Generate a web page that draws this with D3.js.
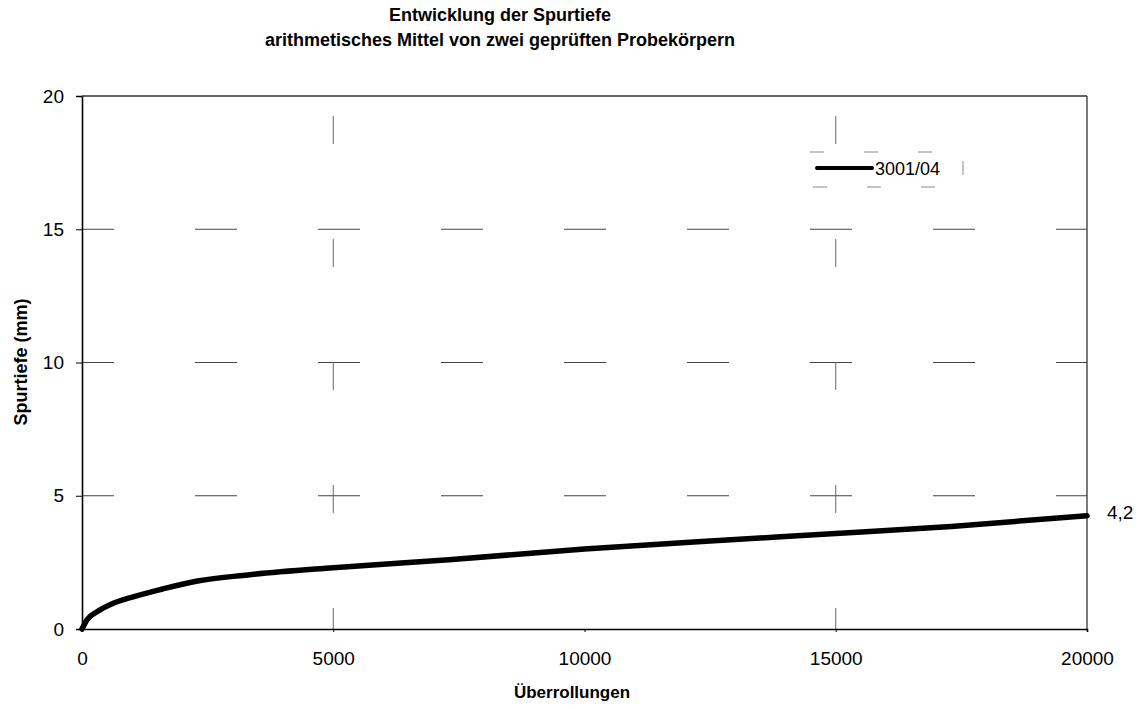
<!DOCTYPE html>
<html><head><meta charset="utf-8">
<script src="https://cdn.jsdelivr.net/npm/d3@7"></script>
<style>body{margin:0;background:#fff;} svg{display:block;}</style>
</head><body>
<svg id="c" width="1144" height="709"></svg>
<script>
const passes = [0, 100, 300, 600, 1000, 1600, 2300, 3300, 5000, 7300, 10000, 12500, 15000, 17300, 20000];
const depth  = [0, 0.35, 0.65, 0.95, 1.2, 1.5, 1.8, 2.03, 2.3, 2.6, 3.0, 3.3, 3.58, 3.85, 4.25];
const xTicks = [0, 5000, 10000, 15000, 20000];
const yTicks = [0, 5, 10, 15, 20];
const hGrid = [5, 10, 15];
const vGrid = [5000, 15000];
const seriesName = "3001/04";
const endLabel = "4,2";
const titleLines = ["Entwicklung der Spurtiefe", "arithmetisches Mittel von zwei geprüften Probekörpern"];
const xTitle = "Überrollungen";
const yTitle = "Spurtiefe (mm)";

const svg = d3.select("#c");
const L = 82, R = 1087, T = 96, B = 629;
const x = d3.scaleLinear().domain([0, 20000]).range([L, R]);
const y = d3.scaleLinear().domain([0, 20]).range([B, T]);
const font = "'Liberation Sans', Arial, sans-serif";

// grid
svg.append("g").selectAll("line").data(hGrid).join("line")
  .attr("x1", L).attr("x2", R).attr("y1", d => y(d)).attr("y2", d => y(d))
  .attr("stroke", "#444").attr("stroke-width", 1).attr("stroke-dasharray", "42,81").attr("stroke-dashoffset", 10);
svg.append("g").selectAll("line").data(vGrid).join("line")
  .attr("x1", d => x(d)).attr("x2", d => x(d)).attr("y1", T).attr("y2", B)
  .attr("stroke", "#666").attr("stroke-width", 1).attr("stroke-dasharray", "28,95").attr("stroke-dashoffset", -20);

// axes
const xAxis = d3.axisBottom(x).tickValues(xTicks).tickSize(3).tickPadding(20).tickFormat(d3.format("d"));
const yAxis = d3.axisLeft(y).tickValues(yTicks).tickSize(6).tickPadding(12).tickFormat(d3.format("d"));
const gx = svg.append("g").attr("transform", `translate(0,${B})`).call(xAxis);
const gy = svg.append("g").attr("transform", `translate(${L},0)`).call(yAxis);
[gx, gy].forEach(g => {
  g.select(".domain").attr("stroke", "#000").attr("stroke-width", 1.6);
  g.selectAll(".tick line").attr("stroke", "#000");
  g.selectAll("text").attr("font-family", font).attr("font-size", 19).attr("fill", "#000");
});
// top and right border
svg.append("line").attr("x1", L).attr("x2", R).attr("y1", T).attr("y2", T).attr("stroke", "#333").attr("stroke-width", 1.3);
svg.append("line").attr("x1", R).attr("x2", R).attr("y1", T).attr("y2", B).attr("stroke", "#333").attr("stroke-width", 1.3);

// curve
const line = d3.line().x((d, i) => x(passes[i])).y(d => y(d)).curve(d3.curveMonotoneX);
svg.append("path").datum(depth).attr("d", line)
  .attr("fill", "none").attr("stroke", "#000").attr("stroke-width", 5.5).attr("stroke-linecap", "round");

// end label
svg.append("text").attr("x", R + 20).attr("y", y(depth[depth.length - 1]) + 3)
  .attr("font-family", font).attr("font-size", 19).text(endLabel);

// legend
const lg = svg.append("g");
lg.append("rect").attr("x", 810).attr("y", 152).attr("width", 153).attr("height", 35)
  .attr("fill", "none").attr("stroke", "#888").attr("stroke-width", 1).attr("stroke-dasharray", "14,40");
lg.append("line").attr("x1", 817).attr("x2", 872).attr("y1", 168).attr("y2", 168)
  .attr("stroke", "#000").attr("stroke-width", 4).attr("stroke-linecap", "round");
lg.append("text").attr("x", 875).attr("y", 175).attr("font-family", font).attr("font-size", 18).text(seriesName);

// titles
svg.append("g").selectAll("text").data(titleLines).join("text")
  .attr("x", 500).attr("y", (d, i) => 21 + i * 25)
  .attr("text-anchor", "middle").attr("font-family", font).attr("font-weight", "bold")
  .attr("font-size", 18).text(d => d);
svg.append("text").attr("x", 572).attr("y", 698).attr("text-anchor", "middle")
  .attr("font-family", font).attr("font-weight", "bold").attr("font-size", 17).text(xTitle);
svg.append("text").attr("transform", `translate(27,362) rotate(-90)`).attr("text-anchor", "middle")
  .attr("font-family", font).attr("font-weight", "bold").attr("font-size", 18).text(yTitle);
</script>
</body></html>
